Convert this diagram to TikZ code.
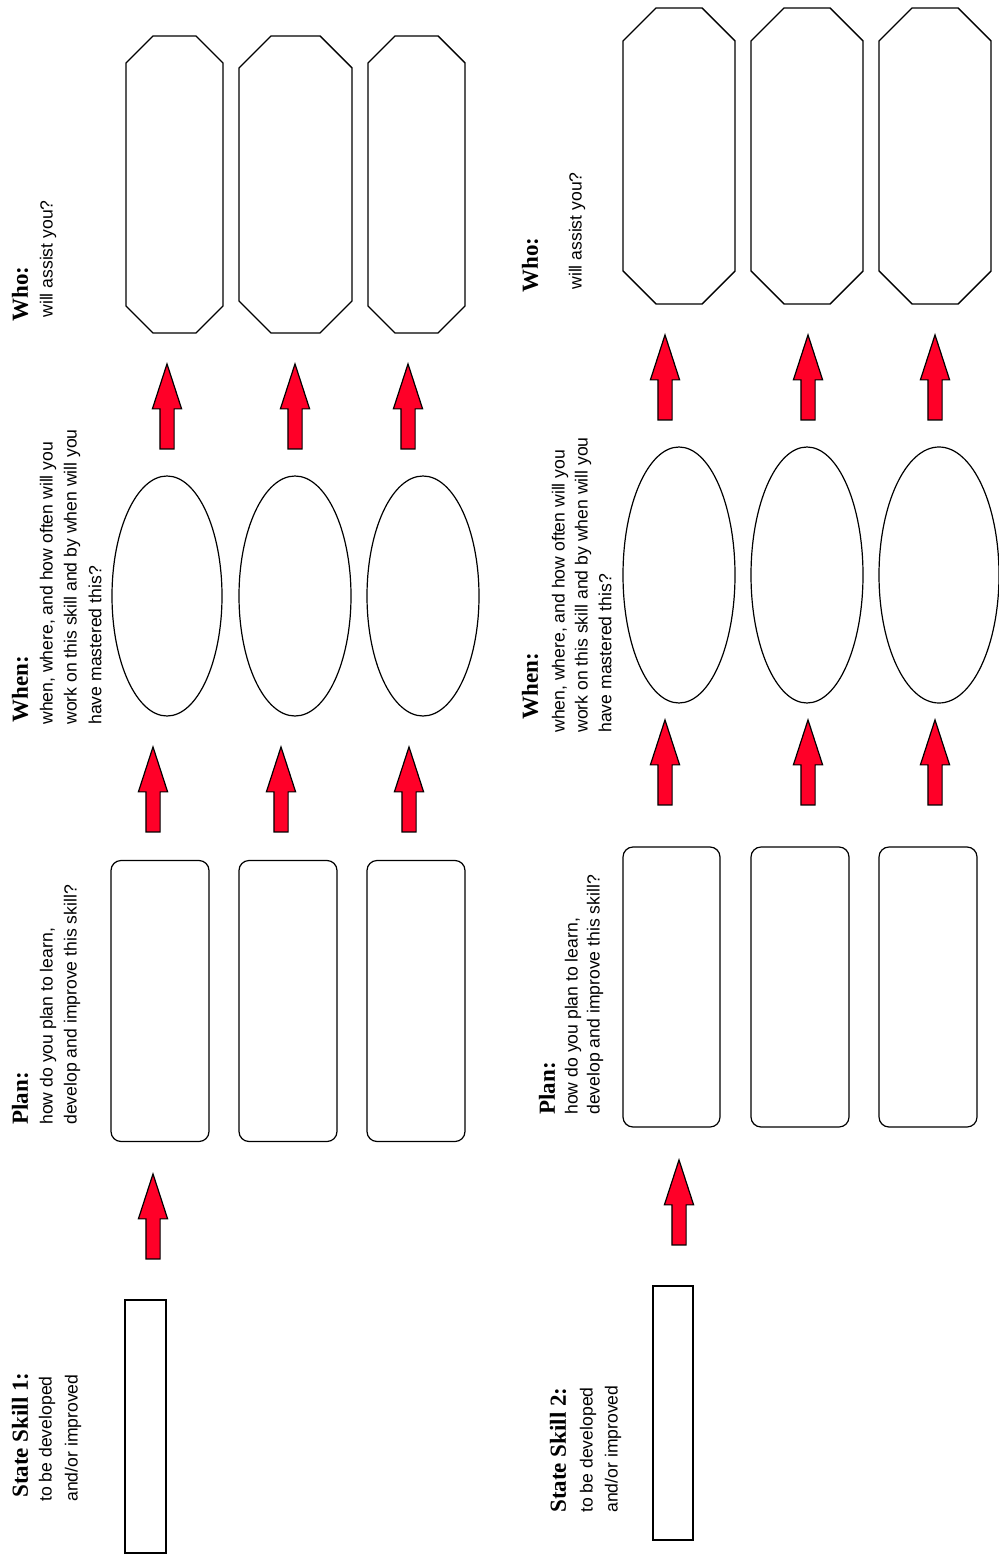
\documentclass[tikz,border=0pt]{standalone}
\usepackage{fontspec}
\setmainfont{Liberation Sans}
\newfontfamily\hdfont{Liberation Serif}
\usetikzlibrary{shapes.geometric,shapes.arrows}
\definecolor{arrowred}{RGB}{255,0,40}
\tikzset{
  skillbox/.style={draw, line width=1.1pt, minimum width=20.5pt, minimum height=126.5pt, inner sep=0pt},
  planbox/.style={draw, line width=0.6pt, rounded corners=5pt, minimum width=49pt, minimum height=140.5pt, inner sep=0pt},
  whenell/.style={draw, ellipse, line width=0.6pt, inner sep=0pt},
  octline/.style={draw, line width=0.7pt},
  redarrow/.style={single arrow, draw=black, line width=0.6pt, fill=arrowred, rotate=90, anchor=tip,
    minimum height=42.5pt, minimum width=14pt, inner sep=3.25pt,
    single arrow head extend=3.75pt, single arrow tip angle=36},
  hd/.style={rotate=90, anchor=west, inner sep=0pt, font=\hdfont\bfseries\fontsize{11.5}{13}\selectfont},
  bd/.style={rotate=90, anchor=west, inner sep=0pt, font=\fontsize{8.8}{11}\selectfont}
}
\newcommand{\octabox}[5]{% cx, top, bottom, halfwidth, cut
  \draw[octline] ({#1-#4+#5},#2) -- ({#1+#4-#5},#2) -- ({#1+#4},{#2+#5}) -- ({#1+#4},{#3-#5})
    -- ({#1+#4-#5},#3) -- ({#1-#4+#5},#3) -- ({#1-#4},{#3-#5}) -- ({#1-#4},{#2+#5}) -- cycle;}
\begin{document}
\begin{tikzpicture}[x=0.5pt,y=-0.5pt]
\useasboundingbox[fill=white] (0,0) rectangle (999,1556);

% ---------------- Section 1 ----------------
\node[hd] (w1h) at (20,322) {Who:};
\node[bd] (w1a) at (48,318) {will assist you?};
\node[hd] (n1h) at (20,723) {When:};
\node[bd] (n1a) at (48,725) {when, where, and how often will you};
\node[bd] (n1b) at (72,725) {work on this skill and by when will you};
\node[bd] (n1c) at (95,725) {have mastered this?};
\node[hd] (p1h) at (20,1125) {Plan:};
\node[bd] (p1a) at (48,1125) {how do you plan to learn,};
\node[bd] (p1b) at (72,1125) {develop and improve this skill?};
\node[hd] (s1h) at (20,1498) {State Skill 1:};
\node[bd] (s1a) at (47,1502) {to be developed};
\node[bd] (s1b) at (73,1502) {and/or improved};

\octabox{174.5}{36}{333}{48.5}{27}
\octabox{295.5}{36}{333}{56.5}{32}
\octabox{416.5}{36}{333}{48.5}{27}

\node[redarrow] (a1a) at (167,362) {};
\node[redarrow] (a1b) at (295,362) {};
\node[redarrow] (a1c) at (408,362) {};

\node[whenell, minimum width=55pt, minimum height=120pt] (e1a) at (167,596) {};
\node[whenell, minimum width=56pt, minimum height=120pt] (e1b) at (295,596) {};
\node[whenell, minimum width=56pt, minimum height=120pt] (e1c) at (423,596) {};

\node[redarrow] (b1a) at (153,745) {};
\node[redarrow] (b1b) at (281,745) {};
\node[redarrow] (b1c) at (409,745) {};

\node[planbox] (pl1a) at (160,1001) {};
\node[planbox] (pl1b) at (288,1001) {};
\node[planbox] (pl1c) at (416,1001) {};

\node[redarrow] (c1) at (153,1172) {};
\node[skillbox] (sk1) at (145.5,1426.5) {};

% ---------------- Section 2 ----------------
\node[hd] (w2h) at (530,293) {Who:};
\node[bd] (w2a) at (577,290) {will assist you?};
\node[hd] (n2h) at (530,720) {When:};
\node[bd] (n2a) at (560,733) {when, where, and how often will you};
\node[bd] (n2b) at (583,733) {work on this skill and by when will you};
\node[bd] (n2c) at (605,733) {have mastered this?};
\node[hd] (p2h) at (547,1115) {Plan:};
\node[bd] (p2a) at (573,1115) {how do you plan to learn,};
\node[bd] (p2b) at (595,1115) {develop and improve this skill?};
\node[hd] (s2h) at (558,1513) {State Skill 2:};
\node[bd] (s2a) at (588,1513) {to be developed};
\node[bd] (s2b) at (613,1513) {and/or improved};

\octabox{679}{8}{304}{56}{33}
\octabox{807}{8}{304}{56}{33}
\octabox{935}{8}{304}{56}{33}

\node[redarrow] (a2a) at (665,333) {};
\node[redarrow] (a2b) at (808,333) {};
\node[redarrow] (a2c) at (935,333) {};

\node[whenell, minimum width=56pt, minimum height=128pt] (e2a) at (679,575) {};
\node[whenell, minimum width=56pt, minimum height=128pt] (e2b) at (807,575) {};
\node[whenell, minimum width=60pt, minimum height=128pt] (e2c) at (939,575) {};

\node[redarrow] (b2a) at (665,718) {};
\node[redarrow] (b2b) at (808,718) {};
\node[redarrow] (b2c) at (935,718) {};

\node[planbox, minimum width=48.5pt, minimum height=140pt] (pl2a) at (671.5,987) {};
\node[planbox, minimum width=49pt, minimum height=140pt] (pl2b) at (800,987) {};
\node[planbox, minimum width=49pt, minimum height=140pt] (pl2c) at (928,987) {};

\node[redarrow] (c2) at (679,1158) {};
\node[skillbox, minimum width=20pt, minimum height=127pt] (sk2) at (673,1413) {};
\end{tikzpicture}
\end{document}
